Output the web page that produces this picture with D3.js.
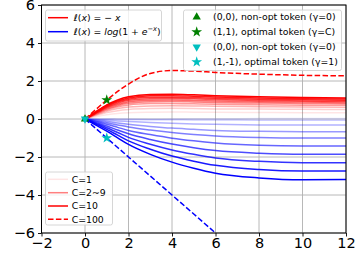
<!DOCTYPE html>
<html>
<head>
<meta charset="utf-8">
<script src="https://cdn.jsdelivr.net/npm/d3@7"></script>
<style>
  body { margin: 0; background: #fff; }
  svg { display: block; font-family: "DejaVu Sans", sans-serif; }
</style>
</head>
<body>
<svg id="chart" width="357" height="258"></svg>
<script>
const xs = [0, 0.5, 1, 1.5, 2, 3, 4, 5, 6, 8, 10, 12];

// linear loss l(x) = -x, C = 1..10
const linearRuns = [
  [0, 0.12, 0.22, 0.29, 0.33, 0.36, 0.37, 0.36, 0.35, 0.34, 0.33, 0.33],
  [0, 0.18, 0.34, 0.44, 0.5, 0.55, 0.56, 0.55, 0.53, 0.52, 0.51, 0.5],
  [0, 0.22, 0.42, 0.55, 0.63, 0.69, 0.7, 0.69, 0.67, 0.65, 0.63, 0.62],
  [0, 0.26, 0.49, 0.64, 0.74, 0.81, 0.82, 0.8, 0.78, 0.75, 0.73, 0.72],
  [0, 0.29, 0.54, 0.71, 0.83, 0.91, 0.92, 0.9, 0.87, 0.84, 0.82, 0.8],
  [0, 0.31, 0.59, 0.78, 0.91, 0.99, 1.0, 0.98, 0.95, 0.91, 0.89, 0.87],
  [0, 0.33, 0.63, 0.84, 0.98, 1.07, 1.08, 1.06, 1.02, 0.97, 0.95, 0.93],
  [0, 0.35, 0.67, 0.9, 1.04, 1.14, 1.15, 1.13, 1.09, 1.04, 1.01, 0.99],
  [0, 0.37, 0.71, 0.95, 1.11, 1.22, 1.23, 1.2, 1.16, 1.11, 1.07, 1.05],
  [0, 0.38, 0.74, 1.0, 1.17, 1.29, 1.3, 1.27, 1.23, 1.17, 1.13, 1.1]
];
const linearC100 = [0, 0.5, 1.0, 1.45, 1.84, 2.4, 2.55, 2.52, 2.45, 2.36, 2.3, 2.27];

// logistic loss l(x) = log(1+e^-x), C = 1..10
const logisticRuns = [
  [0, 0, 0, 0, 0, 0, 0.01, 0.01, 0.01, 0.02, 0.02, 0.02],
  [0, -0.01, -0.01, -0.02, -0.03, -0.04, -0.04, -0.05, -0.05, -0.06, -0.06, -0.06],
  [0, -0.03, -0.06, -0.1, -0.13, -0.19, -0.23, -0.26, -0.28, -0.31, -0.32, -0.32],
  [0, -0.07, -0.13, -0.21, -0.28, -0.39, -0.48, -0.54, -0.6, -0.65, -0.67, -0.67],
  [0, -0.1, -0.2, -0.31, -0.42, -0.58, -0.71, -0.81, -0.89, -0.97, -1.0, -1.0],
  [0, -0.14, -0.28, -0.44, -0.6, -0.82, -1.01, -1.15, -1.26, -1.38, -1.42, -1.42],
  [0, -0.19, -0.37, -0.58, -0.78, -1.08, -1.32, -1.51, -1.66, -1.8, -1.86, -1.86],
  [0, -0.23, -0.46, -0.71, -0.97, -1.33, -1.63, -1.86, -2.05, -2.23, -2.3, -2.3],
  [0, -0.27, -0.55, -0.85, -1.15, -1.59, -1.95, -2.22, -2.44, -2.66, -2.74, -2.74],
  [0, -0.32, -0.64, -0.99, -1.34, -1.86, -2.27, -2.59, -2.85, -3.1, -3.2, -3.18]
];
const logisticC100 = [0, -0.5, -1, -1.5, -2, -3, -4, -5, -6, -8, -10, -12];

// special points
const markerPoints = [
  {x: 0, y: 0, shape: 'up', color: '#008000', label: '(0,0), non-opt token (γ=0)'},
  {x: 1, y: 1, shape: 'star', color: '#008000', label: '(1,1), optimal token (γ=C)'},
  {x: 0, y: 0, shape: 'down', color: '#00bfbf', label: '(0,0), non-opt token (γ=0)'},
  {x: 1, y: -1, shape: 'star', color: '#00bfbf', label: '(1,-1), optimal token (γ=1)'}
];

const xTicks = [-2, 0, 2, 4, 6, 8, 10, 12];
const yTicks = [-6, -4, -2, 0, 2, 4, 6];
const cLabels = ['C=1', 'C=2~9', 'C=10', 'C=100'];

const svg = d3.select('#chart');
const pLeft = 41.5, pRight = 346, pTop = 5, pBottom = 233;

const x = d3.scaleLinear().domain([-2, 12]).range([pLeft, pRight]);
const y = d3.scaleLinear().domain([-6, 6]).range([pBottom, pTop]);

const fmt = d => d < 0 ? '\u2212' + Math.abs(d) : String(d);

// grid
svg.append('g').selectAll('line').data(xTicks).join('line')
  .attr('x1', d => x(d)).attr('x2', d => x(d))
  .attr('y1', pTop).attr('y2', pBottom)
  .attr('stroke', '#b0b0b0').attr('stroke-width', 0.9);
svg.append('g').selectAll('line').data(yTicks).join('line')
  .attr('x1', pLeft).attr('x2', pRight)
  .attr('y1', d => y(d)).attr('y2', d => y(d))
  .attr('stroke', '#b0b0b0').attr('stroke-width', 0.9);

svg.append('clipPath').attr('id', 'clip')
  .append('rect').attr('x', pLeft).attr('y', pTop)
  .attr('width', pRight - pLeft).attr('height', pBottom - pTop);

const plot = svg.append('g').attr('clip-path', 'url(#clip)');

const line = d3.line()
  .x((d, i) => x(xs[i]))
  .y(d => y(d))
  .curve(d3.curveMonotoneX);

// red: linear loss
linearRuns.forEach((run, i) => {
  plot.append('path').attr('d', line(run))
    .attr('fill', 'none').attr('stroke', 'red')
    .attr('stroke-opacity', (i + 1) / 10).attr('stroke-width', 1.5);
});
plot.append('path').attr('d', line(linearC100))
  .attr('fill', 'none').attr('stroke', 'red').attr('stroke-width', 1.5)
  .attr('stroke-dasharray', '5.5,2.4');

// blue: logistic loss
logisticRuns.forEach((run, i) => {
  plot.append('path').attr('d', line(run))
    .attr('fill', 'none').attr('stroke', 'blue')
    .attr('stroke-opacity', (i + 1) / 10).attr('stroke-width', 1.5);
});
plot.append('path').attr('d', d3.line().x((d, i) => x(xs[i])).y(d => y(d))(logisticC100))
  .attr('fill', 'none').attr('stroke', 'blue').attr('stroke-width', 1.5)
  .attr('stroke-dasharray', '5.5,2.4');

// markers
const symbolPath = (shape) => {
  if (shape === 'star') return d3.symbol(d3.symbolStar, 36)();
  return d3.symbol(d3.symbolTriangle, 30)();
};
const drawMarker = (g, m, px, py) => {
  g.append('path').attr('d', symbolPath(m.shape))
    .attr('transform', `translate(${px},${py})` + (m.shape === 'down' ? ' rotate(180)' : ''))
    .attr('fill', m.color);
};
markerPoints.forEach(m => drawMarker(svg, m, x(m.x), y(m.y)));

// axes
const xAxis = svg.append('g').attr('transform', `translate(0,${pBottom})`)
  .call(d3.axisBottom(x).tickValues(xTicks).tickFormat(fmt).tickSize(3.5).tickPadding(1.5));
const yAxis = svg.append('g').attr('transform', `translate(${pLeft},0)`)
  .call(d3.axisLeft(y).tickValues(yTicks).tickFormat(fmt).tickSize(3.5).tickPadding(3));
[xAxis, yAxis].forEach(a => {
  a.select('.domain').remove();
  a.selectAll('text').attr('font-size', 14.5).attr('font-family', 'DejaVu Sans').attr('fill', '#000');
  a.selectAll('line').attr('stroke', '#000').attr('stroke-width', 0.9);
});
yAxis.selectAll('text').attr('dy', '0.34em');
svg.append('rect').attr('x', pLeft).attr('y', pTop)
  .attr('width', pRight - pLeft).attr('height', pBottom - pTop)
  .attr('fill', 'none').attr('stroke', '#000').attr('stroke-width', 1);

// legends
const legendBox = (x0, y0, x1, y1) => {
  svg.append('rect').attr('x', x0).attr('y', y0)
    .attr('width', x1 - x0).attr('height', y1 - y0).attr('rx', 2)
    .attr('fill', '#fff').attr('fill-opacity', 0.8)
    .attr('stroke', '#cccccc').attr('stroke-width', 0.8);
};
const richText = (tx, ty, parts) => {
  const t = svg.append('text').attr('x', tx).attr('y', ty)
    .attr('font-size', 9.3).attr('fill', '#000');
  parts.forEach(p => {
    const s = t.append('tspan').text(p.t);
    if (p.i) s.attr('font-style', 'italic');
    if (p.sup) s.attr('font-size', 6.7).attr('dy', -3.6);
    if (p.down) s.attr('dy', 3.6);
  });
};

// loss legend
legendBox(45.5, 10, 161.5, 41);
svg.append('line').attr('x1', 48).attr('x2', 68).attr('y1', 17.7).attr('y2', 17.7)
  .attr('stroke', 'red').attr('stroke-width', 1.5);
svg.append('line').attr('x1', 48).attr('x2', 68).attr('y1', 31.7).attr('y2', 31.7)
  .attr('stroke', 'blue').attr('stroke-width', 1.5);
richText(74, 21, [{t: 'ℓ', i: true}, {t: '('}, {t: 'x', i: true}, {t: ') = \u2212 '}, {t: 'x', i: true}]);
richText(74, 35, [{t: 'ℓ', i: true}, {t: '('}, {t: 'x', i: true}, {t: ') = '}, {t: 'log', i: true},
  {t: '(1 + '}, {t: 'e', i: true}, {t: '\u2212x', i: true, sup: true}, {t: ')', down: true}]);

// marker legend
legendBox(183.5, 10, 341.5, 70.5);
const markerRows = [17, 32, 47, 62];
markerPoints.forEach((m, i) => {
  drawMarker(svg, m, 196.7, markerRows[i]);
  richText(213, markerRows[i] + 3.3, [{t: m.label}]);
});

// C legend
legendBox(45.5, 172, 112.5, 225);
const cRows = [179.3, 192.7, 206, 219.3];
const cOpacity = [0.1, 0.5, 1, 1];
cLabels.forEach((lab, i) => {
  svg.append('line').attr('x1', 48).attr('x2', 68).attr('y1', cRows[i]).attr('y2', cRows[i])
    .attr('stroke', 'red').attr('stroke-width', 1.5).attr('stroke-opacity', cOpacity[i])
    .attr('stroke-dasharray', i === 3 ? '5.5,2.4' : null);
  richText(71.7, cRows[i] + 3.3, [{t: lab}]);
});
</script>
</body>
</html>
